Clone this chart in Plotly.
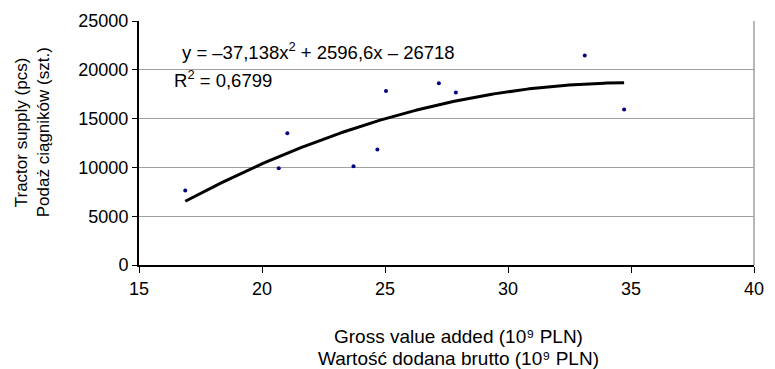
import numpy as np
import plotly.graph_objects as go

# Data
gva = [16.88, 20.68, 21.03, 23.72, 24.69, 25.04, 27.19, 27.88, 33.12, 34.72]
tractors = [7630, 9910, 13510, 10110, 11830, 17840, 18620, 17680, 21470, 15930]

# Polynomial trendline coefficients shown on the chart (a*x^2 + b*x + c)
trend_coeffs = [-37.138, 2596.6, -26718]

x_ticks = [15, 20, 25, 30, 35, 40]
y_ticks = [0, 5000, 10000, 15000, 20000, 25000]
y_tick_labels = ["0", "5000", "10000", "15000", "20000", "25000"]

FONT = "Liberation Sans, Arial, sans-serif"

tx = np.linspace(min(gva), max(gva), 200)
ty = np.polyval(trend_coeffs, tx)

fig = go.Figure()
fig.add_trace(go.Scatter(x=tx, y=ty, mode="lines",
                         line=dict(color="black", width=3), hoverinfo="skip"))
fig.add_trace(go.Scatter(x=gva, y=tractors, mode="markers",
                         marker=dict(color="#000080", size=4)))

fig.update_layout(
    width=775, height=369,
    margin=dict(l=139, r=11, t=17, b=104),
    paper_bgcolor="white", plot_bgcolor="white",
    showlegend=False,
    font=dict(family=FONT, size=17, color="black"),
    xaxis=dict(range=[15, 40], tickvals=x_ticks, ticks="outside", ticklen=6,
               tickcolor="black", showline=True, linecolor="black", linewidth=2,
               showgrid=False, zeroline=False, tickfont=dict(size=18)),
    yaxis=dict(range=[0, 25000], tickvals=y_ticks, ticktext=y_tick_labels,
               ticks="outside", ticklen=5,
               tickcolor="black", showline=True, linecolor="black", linewidth=2,
               showgrid=True, gridcolor="#a0a0a0", gridwidth=1, zeroline=False,
               tickfont=dict(size=18)),
)

# right frame
fig.add_shape(type="line", xref="paper", yref="paper", x0=1, x1=1, y0=0, y1=1,
              line=dict(color="#a0a0a0", width=1.5))

# equation and R^2
fig.add_annotation(text="y = –37,138x<sup>2</sup> + 2596,6x – 26718",
                   xref="paper", yref="paper", x=0, y=1, xanchor="left", yanchor="middle",
                   xshift=41, yshift=-30, showarrow=False, font=dict(size=18.5))
fig.add_annotation(text="R<sup>2</sup> = 0,6799",
                   xref="paper", yref="paper", x=0, y=1, xanchor="left", yanchor="middle",
                   xshift=33, yshift=-58, showarrow=False, font=dict(size=18.5))

# y title (two lines)
fig.add_annotation(text="Tractor supply (pcs)", textangle=-90,
                   xref="paper", yref="paper", x=0, y=0.544, xanchor="center", yanchor="middle",
                   xshift=-118, showarrow=False, font=dict(size=17))
fig.add_annotation(text="Podaż ciągników (szt.)", textangle=-90,
                   xref="paper", yref="paper", x=0, y=0.544, xanchor="center", yanchor="middle",
                   xshift=-96, showarrow=False, font=dict(size=17))

# x title (two lines)
fig.add_annotation(text="Gross value added (10⁹ PLN)",
                   xref="paper", yref="paper", x=0.52, y=0, xanchor="center", yanchor="middle",
                   yshift=-71.5, showarrow=False, borderpad=0, font=dict(size=19))
fig.add_annotation(text="Wartość dodana brutto (10⁹ PLN)",
                   xref="paper", yref="paper", x=0.52, y=0, xanchor="center", yanchor="middle",
                   yshift=-93, showarrow=False, borderpad=0, font=dict(size=19))

fig.write_html("out.html")
